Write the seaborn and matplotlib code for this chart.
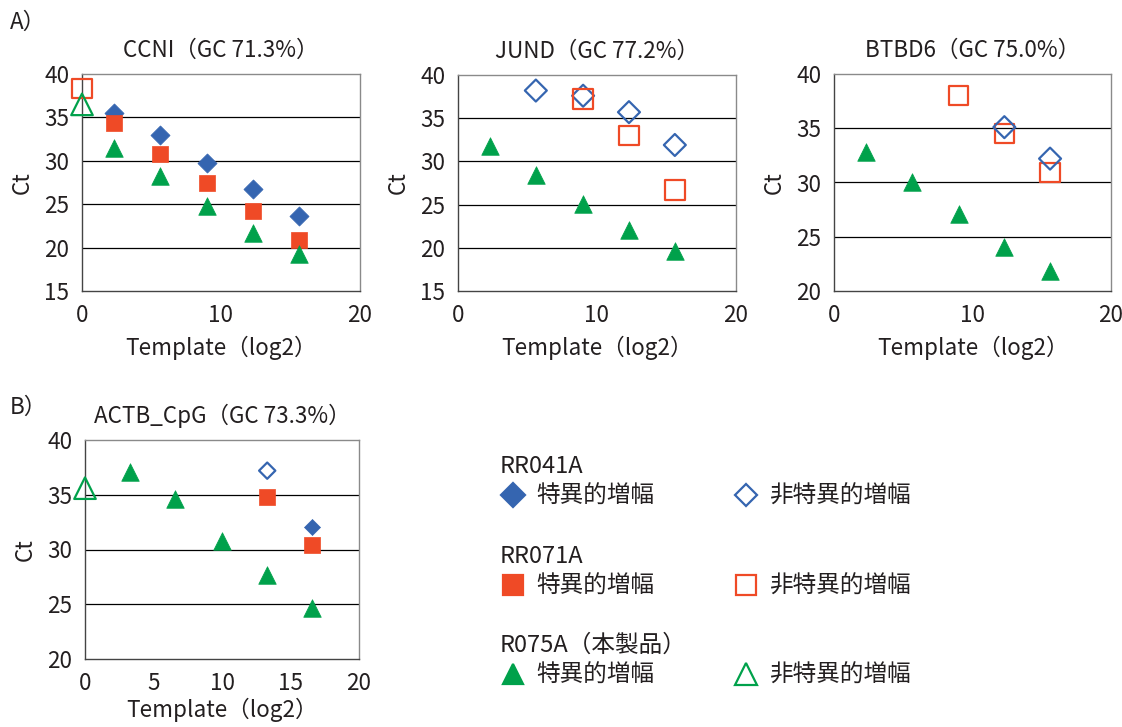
import pandas as pd
import seaborn as sns
import matplotlib.pyplot as plt
from matplotlib.lines import Line2D


# ============================
# Data (Ct vs template, log2)
# ============================

blue = "#3565b0"
red = "#ef4a26"
green = "#00a14b"

x_dil = [2.3, 5.6, 9.0, 12.3, 15.6]

# CCNI
ccni_rr041a = [35.5, 33.0, 29.8, 26.8, 23.6]
ccni_rr071a = [34.4, 30.8, 27.5, 24.2, 20.9]
ccni_r075a = [31.5, 28.2, 24.8, 21.7, 19.3]
ccni_rr071a_ns_x = [0.0]
ccni_rr071a_ns = [38.3]
ccni_r075a_ns_x = [0.0]
ccni_r075a_ns = [36.5]

# JUND
jund_rr041a_ns_x = [5.6, 9.0, 12.3, 15.6]
jund_rr041a_ns = [38.2, 37.6, 35.7, 31.9]
jund_rr071a_ns_x = [9.0, 12.3, 15.6]
jund_rr071a_ns = [37.2, 33.0, 26.7]
jund_r075a = [31.8, 28.4, 25.1, 22.1, 19.6]

# BTBD6
btbd6_rr041a_ns_x = [12.3, 15.6]
btbd6_rr041a_ns = [35.1, 32.2]
btbd6_rr071a_ns_x = [9.0, 12.3, 15.6]
btbd6_rr071a_ns = [38.0, 34.5, 30.9]
btbd6_r075a = [32.8, 30.0, 27.1, 24.1, 21.8]

# ACTB_CpG
actb_x = [3.3, 6.6, 10.0, 13.3, 16.6]
actb_r075a = [37.1, 34.6, 30.8, 27.7, 24.7]
actb_r075a_ns_x = [0.0]
actb_r075a_ns = [35.6]
actb_rr041a_x = [16.6]
actb_rr041a = [32.1]
actb_rr041a_ns_x = [13.3]
actb_rr041a_ns = [37.2]
actb_rr071a_x = [13.3, 16.6]
actb_rr071a = [34.8, 30.4]

titles = ["CCNI（GC 71.3%）", "JUND（GC 77.2%）", "BTBD6（GC 75.0%）",
          "ACTB_CpG（GC 73.3%）"]
legend_heads = ["RR041A", "RR071A", "R075A（本製品）"]
spec_label = "特異的増幅"
nonspec_label = "非特異的増幅"


# ============================
# Style
# ============================

sns.set_theme(style="white")
plt.rcParams["font.family"] = ["Noto Sans CJK JP", "DejaVu Sans"]
txt = "#231f20"
fs = 16.2
fs_leg = 17

fig = plt.figure(figsize=(11.22, 7.27), dpi=100)

W, H = 1122, 727


def add_ax(l, t, r, b):
    return fig.add_axes([l / W, 1 - b / H, (r - l) / W, (b - t) / H])


ax1 = add_ax(82, 74, 360, 291)
ax2 = add_ax(458, 75, 736, 291)
ax3 = add_ax(834, 74, 1111, 291)
ax4 = add_ax(85, 440, 359, 659)

# marker sizes by (marker, filled)
sty = {
    ("D", True): 95, ("D", False): 125,
    ("s", True): 130, ("s", False): 195,
    ("^", True): 160, ("^", False): 240,
}


def pts(ax, xs, ys, color, marker, filled, scale=1.0):
    s = sty[(marker, filled)] * scale
    if filled:
        sns.scatterplot(x=xs, y=ys, marker=marker, s=s, color=color,
                        edgecolor=color, linewidth=0.5, ax=ax, zorder=3)
    else:
        sns.scatterplot(x=xs, y=ys, marker=marker, s=s, color=color,
                        facecolors="none", edgecolor=color, linewidth=1.6,
                        ax=ax, zorder=3)


# CCNI
pts(ax1, x_dil, ccni_rr041a, blue, "D", True)
pts(ax1, x_dil, ccni_rr071a, red, "s", True)
pts(ax1, x_dil, ccni_r075a, green, "^", True)
pts(ax1, ccni_rr071a_ns_x, ccni_rr071a_ns, red, "s", False)
pts(ax1, ccni_r075a_ns_x, ccni_r075a_ns, green, "^", False)

# JUND
pts(ax2, jund_rr041a_ns_x, jund_rr041a_ns, blue, "D", False)
pts(ax2, jund_rr071a_ns_x, jund_rr071a_ns, red, "s", False)
pts(ax2, x_dil, jund_r075a, green, "^", True)

# BTBD6
pts(ax3, btbd6_rr071a_ns_x, btbd6_rr071a_ns, red, "s", False)
pts(ax3, btbd6_rr041a_ns_x, btbd6_rr041a_ns, blue, "D", False)
pts(ax3, x_dil, btbd6_r075a, green, "^", True)

# ACTB_CpG
pts(ax4, actb_x, actb_r075a, green, "^", True)
pts(ax4, actb_r075a_ns_x, actb_r075a_ns, green, "^", False)
pts(ax4, actb_rr041a_ns_x, actb_rr041a_ns, blue, "D", False, 0.55)
pts(ax4, actb_rr071a_x, actb_rr071a, red, "s", True)
pts(ax4, actb_rr041a_x, actb_rr041a, blue, "D", True, 0.7)


# ============================
# Axes formatting
# ============================

limits = [(15, 40), (15, 40), (20, 40), (20, 40)]
xticks = [[0, 10, 20], [0, 10, 20], [0, 10, 20], [0, 5, 10, 15, 20]]
xlab_pad = [7, 7, 7, 2]

for ax, title, (lo, hi), xt, lp in zip([ax1, ax2, ax3, ax4], titles, limits,
                                       xticks, xlab_pad):
    ax.set_xlim(0, 20)
    ax.set_ylim(lo, hi)
    ax.set_xticks(xt)
    ax.set_yticks(range(lo, hi + 1, 5))
    for yv in range(lo + 5, hi, 5):
        ax.axhline(yv, color="black", lw=0.9, zorder=1)
    for sp in ax.spines.values():
        sp.set_color("#8a8a8a")
        sp.set_linewidth(1.0)
    ax.spines["left"].set_color("#444444")
    ax.spines["bottom"].set_color("#444444")
    ax.tick_params(axis="both", direction="out", length=4, width=0.9,
                   color="#444444", labelsize=fs, labelcolor=txt, pad=5)
    ax.set_title(title, fontsize=fs, color=txt, pad=12)
    ax.set_xlabel("Template（log2）", fontsize=fs, color=txt, labelpad=lp)
    ax.set_ylabel("Ct", fontsize=fs, color=txt, labelpad=8)
    ax.set_facecolor("white")
    for c in ax.collections:
        c.set_clip_on(False)

fig.text(10 / W, 1 - 22 / H, "A）", fontsize=fs, color=txt, va="center", ha="left")
fig.text(10 / W, 1 - 407 / H, "B）", fontsize=fs, color=txt, va="center", ha="left")


# ============================
# Legend
# ============================

def proxy(marker, color, filled, ms):
    return Line2D([], [], linestyle="none", marker=marker, markersize=ms,
                  markerfacecolor=color if filled else "none",
                  markeredgecolor=color, markeredgewidth=1.6)


groups = [
    (proxy("D", blue, True, 12), proxy("D", blue, False, 11), 455),
    (proxy("s", red, True, 15), proxy("s", red, False, 14), 545),
    (proxy("^", green, True, 15), proxy("^", green, False, 16.5), 634),
]

for head, (h_spec, h_ns, top) in zip(legend_heads, groups):
    leg = fig.legend(
        [h_spec, h_ns], [spec_label, nonspec_label],
        ncol=2, title=head, loc="upper left",
        bbox_to_anchor=(500 / W, 1 - top / H),
        frameon=False, fontsize=fs_leg, title_fontsize=fs_leg,
        alignment="left", borderpad=0, borderaxespad=0,
        handlelength=1.1, handletextpad=0.45, columnspacing=3.3,
        labelspacing=0.3,
    )
    for t in leg.get_texts():
        t.set_color(txt)
    leg.get_title().set_color(txt)


fig.savefig("out.png", dpi=100, facecolor="white")
